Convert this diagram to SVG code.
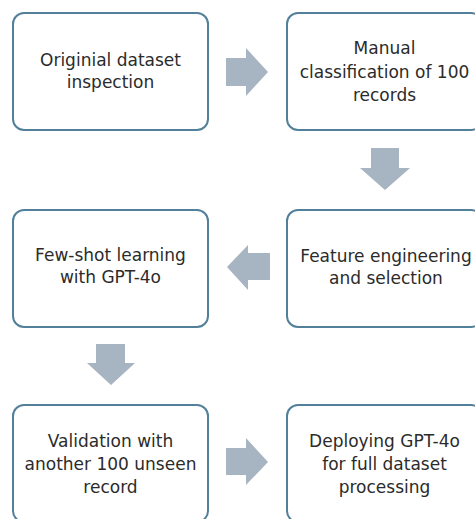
<svg xmlns="http://www.w3.org/2000/svg" width="475" height="519" viewBox="0 0 475 519">
  <style>
    .box { fill: #ffffff; stroke: #52809a; stroke-width: 2; }
    .lbl { font-family: "DejaVu Sans", "Liberation Sans", sans-serif; font-size: 17px; fill: #2b2b2b; text-anchor: middle; }
    .arrow { fill: #a7b4c1; }
  </style>
  <rect width="475" height="519" fill="#ffffff"/>

  <!-- process steps -->
  <g id="step-inspection">
    <rect class="box" x="13" y="13" width="195" height="117" rx="11"/>
    <text class="lbl" x="110.5" y="66">Originial dataset</text>
    <text class="lbl" x="110.5" y="88">inspection</text>
  </g>
  <g id="step-manual">
    <rect class="box" x="287" y="13" width="195" height="117" rx="11"/>
    <text class="lbl" x="384.5" y="54">Manual</text>
    <text class="lbl" x="384.5" y="78">classification of 100</text>
    <text class="lbl" x="384.5" y="101">records</text>
  </g>
  <g id="step-features">
    <rect class="box" x="287" y="210" width="195" height="117" rx="11"/>
    <text class="lbl" x="386" y="262">Feature engineering</text>
    <text class="lbl" x="386" y="284">and selection</text>
  </g>
  <g id="step-fewshot">
    <rect class="box" x="13" y="210" width="195" height="117" rx="11"/>
    <text class="lbl" x="110.5" y="261">Few-shot learning</text>
    <text class="lbl" x="110.5" y="283">with GPT-4o</text>
  </g>
  <g id="step-validation">
    <rect class="box" x="13" y="405" width="195" height="117" rx="11"/>
    <text class="lbl" x="110.5" y="447">Validation with</text>
    <text class="lbl" x="110.5" y="470">another 100 unseen</text>
    <text class="lbl" x="110.5" y="493">record</text>
  </g>
  <g id="step-deploy">
    <rect class="box" x="287" y="405" width="195" height="117" rx="11"/>
    <text class="lbl" x="384.5" y="447">Deploying GPT-4o</text>
    <text class="lbl" x="384.5" y="470">for full dataset</text>
    <text class="lbl" x="384.5" y="493">processing</text>
  </g>

  <!-- block arrows between steps -->
  <g id="connectors">
    <polygon class="arrow" points="226,58 246,58 246,48 268,72 246,96 246,86 226,86"/>
    <polygon class="arrow" points="371,148 399,148 399,168 410,168 385,190 360,168 371,168"/>
    <polygon class="arrow" points="270,253 248,253 248,245 227,267 248,290 248,280 270,280"/>
    <polygon class="arrow" points="96,344 125,344 125,363 135,363 111,385 87,363 96,363"/>
    <polygon class="arrow" points="226,448 246,448 246,438 268,462 246,485 246,475 226,475"/>
  </g>
</svg>
